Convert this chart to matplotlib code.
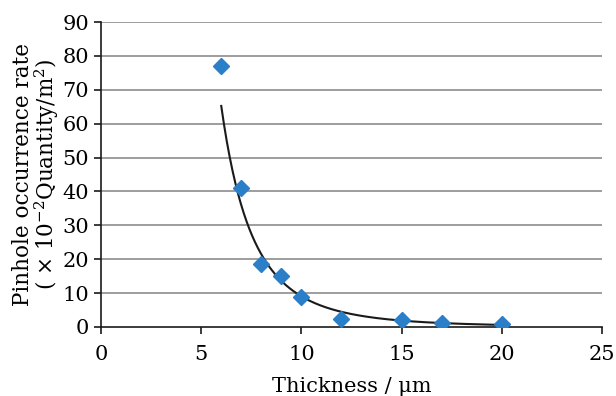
import numpy as np
import matplotlib
matplotlib.use("Agg")
import matplotlib.pyplot as plt

thickness = [6, 7, 8, 9, 10, 12, 15, 17, 20]
pinhole_rate = [77, 41, 18.5, 15, 9, 2.5, 2, 1.2, 0.8]
x_ticks = [0, 5, 10, 15, 20, 25]
y_ticks = [0, 10, 20, 30, 40, 50, 60, 70, 80, 90]

plt.rcParams['font.family'] = ['DejaVu Serif']
plt.rcParams['mathtext.fontset'] = 'dejavuserif'

fig = plt.figure(figsize=(6.16, 3.96), dpi=100)
ax = fig.add_axes([101/616, 1 - 327/396, (602-101)/616, (327-22)/396])

# power-law trendline fitted to the data (as Excel does)
lx = np.log(thickness)
ly = np.log(pinhole_rate)
b, a = np.polyfit(lx, ly, 1)
xf = np.linspace(min(thickness), max(thickness), 300)
yf = np.exp(a) * xf ** b

for yv in y_ticks[1:]:
    ax.axhline(yv, color='#8c8c8c', lw=1.2, zorder=0)

ax.plot(xf, yf, color='#1a1a1a', lw=1.5, zorder=2)
ax.plot(thickness, pinhole_rate, linestyle='none', marker='D', markersize=8.5,
        color='#2b7ec8', zorder=3)

ax.set_xlim(0, 25)
ax.set_ylim(0, 90)
ax.set_xticks(x_ticks)
ax.set_yticks(y_ticks)
ax.spines['top'].set_visible(False)
ax.spines['right'].set_visible(False)
for s in ('left', 'bottom'):
    ax.spines[s].set_linewidth(1.2)
    ax.spines[s].set_color('#1a1a1a')
ax.tick_params(direction='out', length=5, width=1.2, labelsize=15, color='#1a1a1a')
ax.tick_params(axis='x', pad=8)
ax.set_xlabel('Thickness / μm', fontsize=15, labelpad=9)
ax.set_ylabel('Pinhole occurrence rate\n( × 10$^{-2}$Quantity/m$^{2}$)', fontsize=15.5,
              linespacing=0.95, labelpad=1)
fig.savefig('out.png', dpi=100)
